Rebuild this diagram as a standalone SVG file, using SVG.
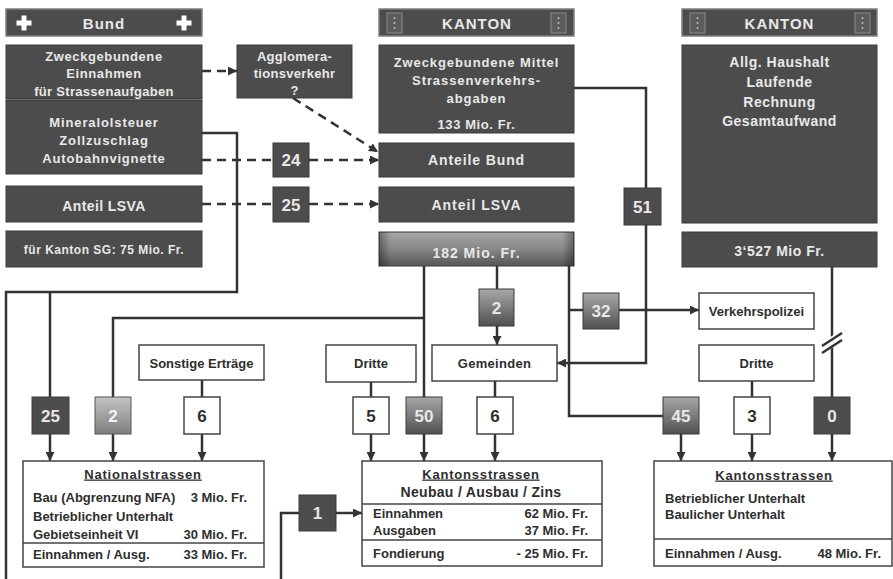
<svg xmlns="http://www.w3.org/2000/svg" width="893" height="579" viewBox="0 0 893 579">
<defs>
<style>
.dk{fill:#4c4c4c;stroke:#3a3a3a;stroke-width:1}
.hd{fill:#4c4c4c;stroke:#808080;stroke-width:1.5}
.wb{fill:#fff;stroke:#444;stroke-width:1.5}
.t{font-family:"Liberation Sans",Arial,sans-serif;font-weight:bold}
.lt{fill:#e8e8e8}
.dt{fill:#2e2e2e}
.c{text-anchor:middle}
.e{text-anchor:end}
.f12{font-size:12px}
.f13{font-size:13px}
.f14{font-size:14px}
.f15{font-size:15px}
.num{font-size:17px}
.ln{fill:none;stroke:#333;stroke-width:2.5}
.ds{stroke-dasharray:9 6}
.em{fill:#5c5c5c;stroke:#8a8a8a;stroke-width:1}
.dot{fill:#bdbdbd}
.cr{fill:#fff}
.dv{stroke:#444;stroke-width:1.5}
</style>
<marker id="ah" viewBox="0 0 10 10" refX="10" refY="5" markerWidth="9" markerHeight="9" markerUnits="userSpaceOnUse" orient="auto">
<path d="M0,0 L10,5 L0,10 z" fill="#333"/>
</marker>
<linearGradient id="g182" x1="0" y1="0" x2="0" y2="1">
<stop offset="0" stop-color="#a6a6a6"/><stop offset="0.5" stop-color="#888"/><stop offset="1" stop-color="#555"/>
</linearGradient>
<linearGradient id="gside" x1="0" y1="0" x2="1" y2="0">
<stop offset="0" stop-color="#000" stop-opacity="0.35"/><stop offset="0.06" stop-color="#000" stop-opacity="0"/><stop offset="0.94" stop-color="#000" stop-opacity="0"/><stop offset="1" stop-color="#000" stop-opacity="0.35"/>
</linearGradient>
<linearGradient id="gb" x1="0" y1="0" x2="0" y2="1">
<stop offset="0" stop-color="#a8a8a8"/><stop offset="1" stop-color="#505050"/>
</linearGradient>
<linearGradient id="gl" x1="0" y1="0" x2="0" y2="1">
<stop offset="0" stop-color="#c4c4c4"/><stop offset="1" stop-color="#7e7e7e"/>
</linearGradient>
</defs>
<rect width="893" height="579" fill="#fff"/>

<!-- connectors -->
<g id="connectors">
<path class="ln" d="M202,133 H237 V292 H6 V579"/>
<path class="ln" d="M50,292 V397"/>
<path class="ln" d="M50,434 V461" marker-end="url(#ah)"/>
<path class="ln" d="M424,266 V397"/>
<path class="ln" d="M424,318 H113 V397"/>
<path class="ln" d="M113,434 V461" marker-end="url(#ah)"/>
<path class="ln" d="M202,380 V397"/>
<path class="ln" d="M202,434 V461" marker-end="url(#ah)"/>
<path class="ln" d="M497,266 V289"/>
<path class="ln" d="M497,326 V345" marker-end="url(#ah)"/>
<path class="ln" d="M495,381 V397"/>
<path class="ln" d="M495,434 V461" marker-end="url(#ah)"/>
<path class="ln" d="M371,382 V397"/>
<path class="ln" d="M371,434 V461" marker-end="url(#ah)"/>
<path class="ln" d="M424,434 V461" marker-end="url(#ah)"/>
<path class="ln" d="M569,266 V416 H663"/>
<path class="ln" d="M569,310 H583"/>
<path class="ln" d="M619,310 H699" marker-end="url(#ah)"/>
<path class="ln" d="M681,434 V461" marker-end="url(#ah)"/>
<path class="ln" d="M574,88 H646 V188"/>
<path class="ln" d="M646,225 V363 H557" marker-end="url(#ah)"/>
<path class="ln" d="M832,267 V397"/>
<rect x="820" y="337" width="24" height="10" fill="#fff" transform="rotate(-33 832 342)"/>
<path class="ln" d="M822,346 L842,333"/>
<path class="ln" d="M822,353 L842,340"/>
<path class="ln" d="M832,434 V461" marker-end="url(#ah)"/>
<path class="ln" d="M752,381 V397"/>
<path class="ln" d="M752,434 V461" marker-end="url(#ah)"/>
<path class="ln" d="M281,579 V513 H299"/>
<path class="ln" d="M336,513 H362" marker-end="url(#ah)"/>
<path class="ln ds" d="M202,71 H237" marker-end="url(#ah)"/>
<path class="ln ds" d="M293,98 L378,152" marker-end="url(#ah)"/>
<path class="ln ds" d="M202,160 H273"/>
<path class="ln ds" d="M309,160 H379" marker-end="url(#ah)"/>
<path class="ln ds" d="M202,204 H273"/>
<path class="ln ds" d="M309,204 H379" marker-end="url(#ah)"/>
</g>

<!-- Bund column -->
<g id="bund-header">
<rect class="hd" x="6" y="9" width="196" height="27"/>
<rect class="cr" x="21.5" y="15.5" width="5" height="15"/><rect class="cr" x="16.5" y="20.5" width="15" height="5"/>
<rect class="cr" x="181.5" y="15.5" width="5" height="15"/><rect class="cr" x="176.5" y="20.5" width="15" height="5"/>
<text class="t lt c f15" x="104" y="28.5" letter-spacing="1">Bund</text>
</g>
<g id="bund-zweck">
<rect class="dk" x="6" y="45" width="196" height="54"/>
<text class="t lt c f13" x="104" y="60.5" letter-spacing="0.6">Zweckgebundene</text>
<text class="t lt c f13" x="104" y="78" letter-spacing="0.6">Einnahmen</text>
<text class="t lt c f13" x="104" y="95.5" letter-spacing="0.3">für Strassenaufgaben</text>
</g>
<g id="bund-mineral">
<rect class="dk" x="6" y="100" width="196" height="74"/>
<text class="t lt c f13" x="104" y="126.5" letter-spacing="0.9">Mineralolsteuer</text>
<text class="t lt c f13" x="104" y="144.5" letter-spacing="0.9">Zollzuschlag</text>
<text class="t lt c f13" x="104" y="162.5" letter-spacing="0.8">Autobahnvignette</text>
</g>
<g id="bund-lsva">
<rect class="dk" x="6" y="186" width="196" height="36"/>
<text class="t lt c f14" x="104" y="211" letter-spacing="0.4">Anteil LSVA</text>
</g>
<g id="bund-sg">
<rect class="dk" x="6" y="231" width="196" height="36"/>
<text class="t lt c f12" x="104" y="253.5" letter-spacing="0.5">für Kanton SG: 75 Mio. Fr.</text>
</g>
<g id="agglo">
<rect class="dk" x="237" y="45" width="115" height="53"/>
<text class="t lt c f13" x="294.5" y="60.5" letter-spacing="0.3">Agglomera-</text>
<text class="t lt c f13" x="294.5" y="77.5" letter-spacing="0.3">tionsverkehr</text>
<text class="t lt c f13" x="294.5" y="94.5">?</text>
</g>
<g id="n24">
<rect class="dk" x="273" y="143" width="36" height="34"/>
<text class="t lt c num" x="291" y="166">24</text>
</g>
<g id="n25top">
<rect class="dk" x="273" y="187" width="36" height="35"/>
<text class="t lt c num" x="291" y="210.5">25</text>
</g>

<!-- Kanton middle column -->
<g id="kanton-header-1">
<rect class="hd" x="379" y="9" width="195" height="27"/>
<rect class="em" x="387" y="13" width="15" height="20"/>
<circle class="dot" cx="394.5" cy="18" r="1"/><circle class="dot" cx="394.5" cy="23" r="1"/><circle class="dot" cx="394.5" cy="28" r="1"/>
<rect class="em" x="551" y="13" width="15" height="20"/>
<circle class="dot" cx="558.5" cy="18" r="1"/><circle class="dot" cx="558.5" cy="23" r="1"/><circle class="dot" cx="558.5" cy="28" r="1"/>
<text class="t lt c f15" x="477" y="28.5" letter-spacing="1">KANTON</text>
</g>
<g id="kanton-zweck">
<rect class="dk" x="379" y="45" width="195" height="88"/>
<text class="t lt c f13" x="476.5" y="66.5" letter-spacing="0.9">Zweckgebundene Mittel</text>
<text class="t lt c f13" x="476.5" y="84.5" letter-spacing="0.9">Strassenverkehrs-</text>
<text class="t lt c f13" x="476.5" y="102.5" letter-spacing="0.9">abgaben</text>
<text class="t lt c f13" x="476.5" y="128.5" letter-spacing="0.6">133 Mio. Fr.</text>
</g>
<g id="anteile-bund">
<rect class="dk" x="379" y="143" width="195" height="34"/>
<text class="t lt c f14" x="476.5" y="165" letter-spacing="0.9">Anteile Bund</text>
</g>
<g id="anteil-lsva">
<rect class="dk" x="379" y="187" width="195" height="35"/>
<text class="t lt c f14" x="476.5" y="210" letter-spacing="1">Anteil LSVA</text>
</g>
<g id="total-182">
<rect x="379" y="232" width="195" height="34" fill="url(#g182)" stroke="#3a3a3a" stroke-width="1"/>
<rect x="379" y="232" width="195" height="34" fill="url(#gside)"/>
<text class="t lt c f14" x="476.5" y="258" letter-spacing="1">182 Mio. Fr.</text>
</g>
<g id="n51">
<rect class="dk" x="624" y="188" width="37" height="37"/>
<text class="t lt c num" x="642.5" y="212.5">51</text>
</g>

<!-- Kanton right column -->
<g id="kanton-header-2">
<rect class="hd" x="682" y="9" width="195" height="27"/>
<rect class="em" x="690" y="13" width="15" height="20"/>
<circle class="dot" cx="697.5" cy="18" r="1"/><circle class="dot" cx="697.5" cy="23" r="1"/><circle class="dot" cx="697.5" cy="28" r="1"/>
<rect class="em" x="855" y="13" width="15" height="20"/>
<circle class="dot" cx="862.5" cy="18" r="1"/><circle class="dot" cx="862.5" cy="23" r="1"/><circle class="dot" cx="862.5" cy="28" r="1"/>
<text class="t lt c f15" x="779.5" y="28.5" letter-spacing="1">KANTON</text>
</g>
<g id="haushalt">
<rect class="dk" x="682" y="45" width="195" height="178"/>
<text class="t lt c f14" x="779.5" y="67" letter-spacing="0.5">Allg. Haushalt</text>
<text class="t lt c f14" x="779.5" y="87" letter-spacing="0.5">Laufende</text>
<text class="t lt c f14" x="779.5" y="107" letter-spacing="0.5">Rechnung</text>
<text class="t lt c f14" x="779.5" y="126" letter-spacing="0.5">Gesamtaufwand</text>
</g>
<g id="total-3527">
<rect class="dk" x="682" y="232" width="195" height="35"/>
<text class="t lt c f14" x="779.5" y="255.5" letter-spacing="0.5">3‘527 Mio Fr.</text>
</g>

<!-- middle nodes -->
<g id="n2mid">
<rect x="479" y="289" width="35" height="37" fill="url(#gb)" stroke="#3a3a3a" stroke-width="1"/>
<text class="t lt c num" x="496.5" y="313.5">2</text>
</g>
<g id="n32">
<rect x="583" y="293" width="36" height="36" fill="url(#gb)" stroke="#3a3a3a" stroke-width="1"/>
<text class="t lt c num" x="601" y="317">32</text>
</g>
<g id="verkehrspolizei">
<rect class="wb" x="699" y="293" width="115" height="36"/>
<text class="t dt c f13" x="756.5" y="315.5">Verkehrspolizei</text>
</g>
<g id="gemeinden">
<rect class="wb" x="432" y="345" width="125" height="36"/>
<text class="t dt c f13" x="494.5" y="367.5" letter-spacing="0.3">Gemeinden</text>
</g>
<g id="dritte-mid">
<rect class="wb" x="326" y="345" width="90" height="37"/>
<text class="t dt c f13" x="371" y="368">Dritte</text>
</g>
<g id="sonstige">
<rect class="wb" x="139" y="345" width="125" height="35"/>
<text class="t dt c f13" x="201.5" y="367.5">Sonstige Erträge</text>
</g>
<g id="dritte-right">
<rect class="wb" x="699" y="345" width="115" height="36"/>
<text class="t dt c f13" x="756.5" y="367.5">Dritte</text>
</g>

<!-- number row -->
<g id="n25"><rect class="dk" x="32" y="397" width="37" height="37"/><text class="t lt c num" x="50.5" y="421.5">25</text></g>
<g id="n2left"><rect x="95" y="397" width="36" height="37" fill="url(#gl)" stroke="#555" stroke-width="1"/><text class="t c num" fill="#f4f4f4" x="113" y="421.5">2</text></g>
<g id="n6left"><rect class="wb" x="184" y="397" width="36" height="37"/><text class="t dt c num" x="202" y="421.5">6</text></g>
<g id="n5"><rect class="wb" x="353" y="397" width="36" height="37"/><text class="t dt c num" x="371" y="421.5">5</text></g>
<g id="n50"><rect x="406" y="397" width="36" height="37" fill="url(#gb)" stroke="#3a3a3a" stroke-width="1"/><text class="t lt c num" x="424" y="421.5">50</text></g>
<g id="n6mid"><rect class="wb" x="477" y="397" width="36" height="37"/><text class="t dt c num" x="495" y="421.5">6</text></g>
<g id="n45"><rect x="663" y="397" width="36" height="37" fill="url(#gb)" stroke="#3a3a3a" stroke-width="1"/><text class="t lt c num" x="681" y="421.5">45</text></g>
<g id="n3"><rect class="wb" x="734" y="397" width="36" height="37"/><text class="t dt c num" x="752" y="421.5">3</text></g>
<g id="n0"><rect class="dk" x="814" y="397" width="36" height="37"/><text class="t lt c num" x="832" y="421.5">0</text></g>
<g id="n1"><rect class="dk" x="299" y="495" width="37" height="36"/><text class="t lt c num" x="317.5" y="519">1</text></g>

<!-- bottom boxes -->
<g id="nationalstrassen">
<rect class="wb" x="23" y="461" width="241" height="106"/>
<line class="dv" x1="23" y1="543" x2="264" y2="543"/>
<text class="t dt c f13" x="143" y="478.5" letter-spacing="0.8" text-decoration="underline">Nationalstrassen</text>
<text class="t dt f13" x="33" y="501.5">Bau (Abgrenzung NFA)</text>
<text class="t dt e f13" x="247" y="501.5">3 Mio. Fr.</text>
<text class="t dt f13" x="33" y="521">Betrieblicher Unterhalt</text>
<text class="t dt f13" x="33" y="538.5">Gebietseinheit VI</text>
<text class="t dt e f13" x="247" y="538.5">30 Mio. Fr.</text>
<text class="t dt f13" x="33" y="558.5">Einnahmen / Ausg.</text>
<text class="t dt e f13" x="247" y="558.5">33 Mio. Fr.</text>
</g>
<g id="kantonsstrassen-neubau">
<rect class="wb" x="362" y="461" width="240" height="105"/>
<line class="dv" x1="362" y1="504" x2="602" y2="504"/>
<line class="dv" x1="362" y1="540" x2="602" y2="540"/>
<text class="t dt c f13" x="481" y="478.5" letter-spacing="0.8" text-decoration="underline">Kantonsstrassen</text>
<text class="t dt c f14" x="481" y="497" letter-spacing="0.3">Neubau / Ausbau / Zins</text>
<text class="t dt f13" x="373" y="517.5">Einnahmen</text>
<text class="t dt e f13" x="588" y="517.5">62 Mio. Fr.</text>
<text class="t dt f13" x="373" y="534.5">Ausgaben</text>
<text class="t dt e f13" x="588" y="534.5">37 Mio. Fr.</text>
<text class="t dt f13" x="373" y="557.5">Fondierung</text>
<text class="t dt e f13" x="588" y="557.5">- 25 Mio. Fr.</text>
</g>
<g id="kantonsstrassen-unterhalt">
<rect class="wb" x="654" y="461" width="238" height="105"/>
<line class="dv" x1="654" y1="539" x2="892" y2="539"/>
<text class="t dt c f13" x="774" y="479.5" letter-spacing="0.8" text-decoration="underline">Kantonsstrassen</text>
<text class="t dt f13" x="665" y="502.5">Betrieblicher Unterhalt</text>
<text class="t dt f13" x="665" y="518.5">Baulicher Unterhalt</text>
<text class="t dt f13" x="665" y="557.5">Einnahmen / Ausg.</text>
<text class="t dt e f13" x="881" y="557.5">48 Mio. Fr.</text>
</g>
</svg>
